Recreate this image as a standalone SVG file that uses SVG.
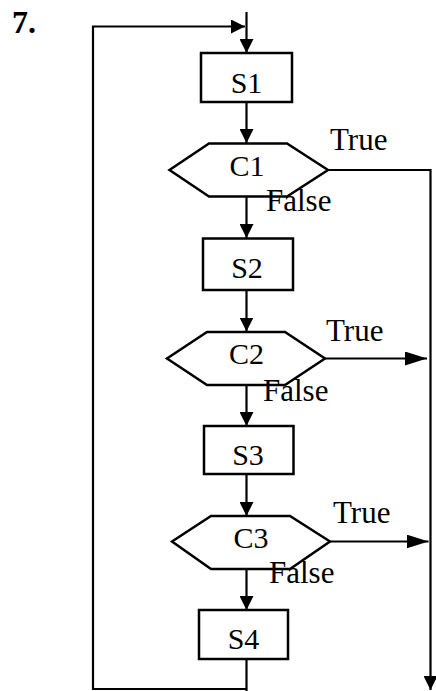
<svg xmlns="http://www.w3.org/2000/svg" width="436" height="691" viewBox="0 0 436 691">
<style>
.shape{fill:none;stroke:#000;stroke-width:2.5}
.line{fill:none;stroke:#000;stroke-width:2.2}
.t{font-family:"Liberation Serif","Times New Roman",serif;font-size:30px;fill:#000}
.lbl{font-family:"Liberation Serif","Times New Roman",serif;font-size:31px;fill:#000}
.c{text-anchor:middle}
</style>
<defs>
<marker id="ah" viewBox="0 0 14 14" refX="14" refY="7" markerWidth="14" markerHeight="14" markerUnits="userSpaceOnUse" orient="auto">
<path d="M0,0 L14,7 L0,14 Z" fill="#000"/>
</marker>
<marker id="ahl" viewBox="0 0 22 14" refX="22" refY="7" markerWidth="22" markerHeight="14" markerUnits="userSpaceOnUse" orient="auto">
<path d="M0,0 L22,7 L0,14 Z" fill="#000"/>
</marker>
</defs>
<text x="12" y="33" style="font-family:'Liberation Serif','Times New Roman',serif;font-size:32px;font-weight:bold">7.</text>
<g id="connectors">
<line class="line" x1="246.5" y1="12" x2="246.5" y2="53" marker-end="url(#ah)"/>
<polyline class="line" points="246,690 246,689 93,689 93,26.5 245,26.5" marker-end="url(#ah)"/>
<line class="line" x1="246.5" y1="102" x2="246.5" y2="143" marker-end="url(#ah)"/>
<polyline class="line" points="328,170 430.5,170 430.5,690" marker-end="url(#ah)"/>
<line class="line" x1="246.5" y1="197" x2="246.5" y2="238" marker-end="url(#ah)"/>
<line class="line" x1="246.5" y1="290" x2="246.5" y2="331.5" marker-end="url(#ah)"/>
<line class="line" x1="325" y1="358.5" x2="427" y2="358.5" marker-end="url(#ahl)"/>
<line class="line" x1="246.5" y1="385" x2="246.5" y2="426" marker-end="url(#ah)"/>
<line class="line" x1="246.5" y1="474" x2="246.5" y2="516" marker-end="url(#ah)"/>
<line class="line" x1="330" y1="541.5" x2="428.5" y2="541.5" marker-end="url(#ahl)"/>
<line class="line" x1="246.5" y1="569" x2="246.5" y2="610" marker-end="url(#ah)"/>
<line class="line" x1="246.5" y1="659" x2="246.5" y2="691"/>
</g>
<g id="S1">
<rect class="shape" x="201" y="53" width="91" height="49"/>
<text class="t c" x="246.5" y="93">S1</text>
</g>
<g id="C1">
<polygon class="shape" points="209,143.5 287,143.5 328,170 287,196.5 209,196.5 169.5,170"/>
<text class="t c" x="247" y="175.5">C1</text>
</g>
<g id="S2">
<rect class="shape" x="203" y="238.5" width="90" height="51.5"/>
<text class="t c" x="247" y="277.5">S2</text>
</g>
<g id="C2">
<polygon class="shape" points="207,332 285,332 325,358.5 285,385 207,385 167,358.5"/>
<text class="t c" x="246.5" y="364">C2</text>
</g>
<g id="S3">
<rect class="shape" x="204" y="426" width="89.5" height="48"/>
<text class="t c" x="248" y="464.5">S3</text>
</g>
<g id="C3">
<polygon class="shape" points="211,516 290,516 330,541.5 290,569 211,569 172,541.5"/>
<text class="t c" x="251" y="547.5">C3</text>
</g>
<g id="S4">
<rect class="shape" x="199" y="610" width="89" height="49"/>
<text class="t c" x="243.5" y="648.5">S4</text>
</g>
<g id="labels">
<text class="lbl" x="330" y="149.5">True</text>
<text class="lbl" x="266" y="210.5">False</text>
<text class="lbl" x="326" y="340.5">True</text>
<text class="lbl" x="263" y="400.5">False</text>
<text class="lbl" x="333" y="522.5">True</text>
<text class="lbl" x="269" y="582.5">False</text>
</g>
</svg>
